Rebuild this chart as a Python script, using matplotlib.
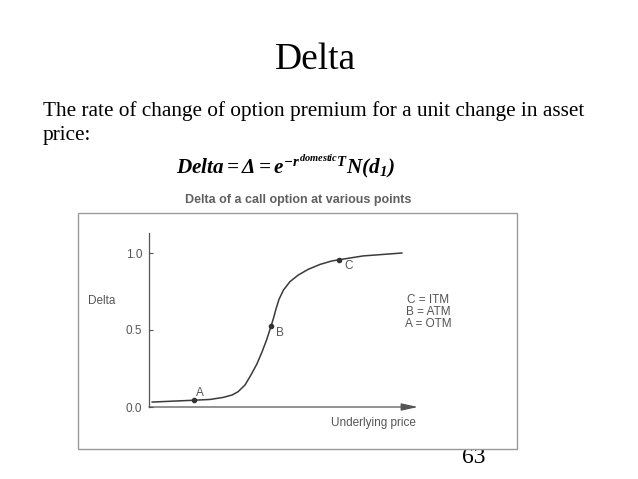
import matplotlib
matplotlib.use("Agg")
import matplotlib.pyplot as plt
from matplotlib.patches import Rectangle

# values
price = [1.1, 16.7, 22.7, 27.5, 30.9, 33.1, 35.7, 37.9, 40.1, 42.0, 43.7,
         45.4, 46.3, 47.2, 48.3, 50.0, 52.4, 55.5, 59.2, 63.6, 67.9, 70.6,
         79.6, 94.1]
delta = [0.032, 0.044, 0.049, 0.062, 0.078, 0.099, 0.143, 0.208, 0.279,
         0.357, 0.435, 0.526, 0.578, 0.636, 0.698, 0.760, 0.814, 0.857,
         0.894, 0.926, 0.948, 0.956, 0.981, 1.0]

point_names = ["A", "B", "C"]
point_price = [16.7, 45.4, 70.6]
point_delta = [0.044, 0.526, 0.956]

ytick_vals = [0.0, 0.5, 1.0]
ytick_labels = ["0.0", "0.5", "1.0"]
legend_lines = ["C = ITM", "B = ATM", "A = OTM"]

W, H = 638, 479
plt.rcParams["mathtext.fontset"] = "custom"
plt.rcParams["mathtext.it"] = "Liberation Serif:italic:bold"
plt.rcParams["mathtext.rm"] = "Liberation Serif:italic:bold"
plt.rcParams["mathtext.bf"] = "Liberation Serif:italic:bold"

fig = plt.figure(figsize=(W / 100, H / 100), dpi=100)


def fx(x):
    return x / W


def fy(y):
    return 1 - y / H


serif = "Liberation Serif"
sans = "Liberation Sans"
grey = "#555555"

# slide text
fig.text(fx(315), fy(69), "Delta", family=serif, fontsize=27, ha="center", va="baseline")
fig.text(fx(43), fy(116), "The rate of change of option premium for a unit change in asset",
         family=serif, fontsize=15.3, ha="left", va="baseline")
fig.text(fx(43), fy(140), "price:", family=serif, fontsize=15.3, ha="left", va="baseline")
fig.text(fx(176), fy(173), r"$Delta = \Delta = e^{-r^{domestic}T}N(d_1)$",
         fontsize=15.2, ha="left", va="baseline")
fig.text(fx(474), fy(463), "63", family=serif, fontsize=17, ha="center", va="baseline",
         zorder=0.5)

# scanned chart frame
box = Rectangle((fx(78), fy(449)), fx(517) - fx(78), fy(213) - fy(449),
                transform=fig.transFigure, facecolor="white", edgecolor="#9a9a9a",
                lw=1.0, zorder=1)
fig.add_artist(box)

fig.text(fx(298), fy(203), "Delta of a call option at various points",
         family=sans, fontweight="bold", fontsize=9,
         color="#606060", ha="center", va="baseline", zorder=3)

# chart axes
left, right, bottom, top = 149, 418, 407, 233
ax = fig.add_axes([fx(left), fy(bottom), fx(right) - fx(left), fy(top) - fy(bottom)],
                  zorder=2)
ax.patch.set_alpha(0)
ax.set_xlim(0, 100)
ax.set_ylim(0, (bottom - top) / 154)

ax.plot(price, delta, color="#3a3a3a", lw=1.1, solid_capstyle="round",
        solid_joinstyle="round")
ax.plot(point_price, point_delta, "o", color="#333333", ms=3)
label_offsets = [(4.5, 5.5), (6.5, -5), (7.2, -4.5)]
for name, px, py, off in zip(point_names, point_price, point_delta, label_offsets):
    ax.annotate(name, (px, py), xytext=off, textcoords="offset points",
                ha="center", va="center", family=sans, fontsize=8.5, color=grey)

for s in ["top", "right", "bottom"]:
    ax.spines[s].set_visible(False)
ax.spines["left"].set_color(grey)
ax.spines["left"].set_linewidth(0.9)
ax.annotate("", xy=(1, 0), xytext=(0, 0), xycoords="axes fraction",
            arrowprops=dict(arrowstyle="-|>,head_length=1.0,head_width=0.22",
                            color=grey, lw=0.9, shrinkA=0, shrinkB=0,
                            mutation_scale=10))

ax.set_xticks([])
ax.set_yticks(ytick_vals)
ax.set_yticklabels(ytick_labels, family=sans, fontsize=8.5, color=grey)
ax.tick_params(axis="y", direction="in", length=3, width=0.8, color=grey, pad=5)

fig.text(fx(102), fy(301), "Delta", family=sans, fontsize=8.5, color=grey,
         ha="center", va="center", zorder=3)
fig.text(fx(373), fy(423), "Underlying price", family=sans, fontsize=8.5, color=grey,
         ha="center", va="center", zorder=3)
fig.text(fx(428), fy(312), "\n".join(legend_lines), family=sans, fontsize=8.5,
         color=grey, ha="center", va="center", linespacing=1.05, zorder=3)

fig.savefig("out.png", dpi=100)
